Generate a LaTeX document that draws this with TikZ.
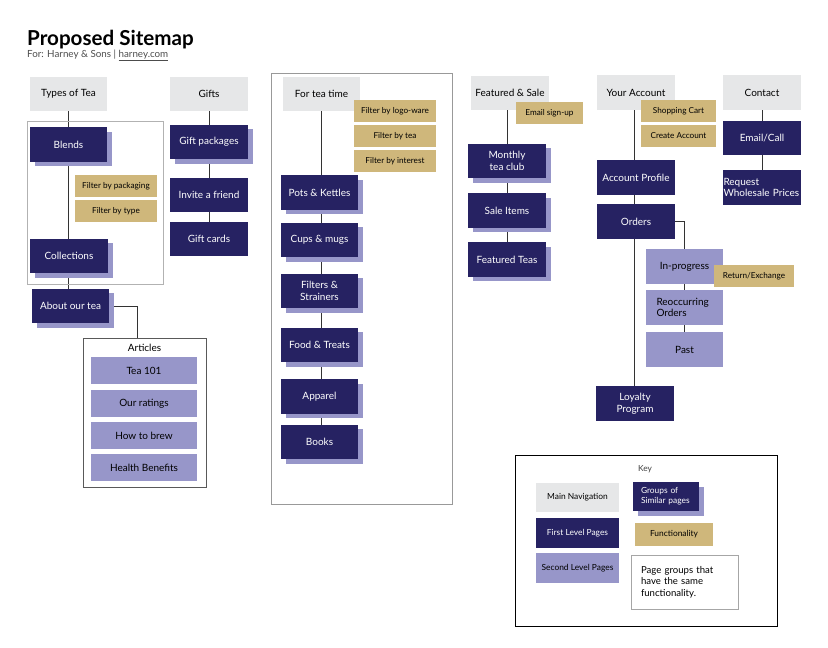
\documentclass[tikz,border=0pt]{standalone}
\usepackage{fontspec}
\setmainfont{Lato}
\usetikzlibrary{shadows,backgrounds}
\definecolor{navy}{HTML}{262262}
\definecolor{lav}{HTML}{9796C9}
\definecolor{tanc}{HTML}{CFB77B}
\definecolor{lgray}{HTML}{E6E7E8}
\definecolor{linec}{HTML}{333333}
\begin{document}
\begin{tikzpicture}[x=1pt,y=-1pt,
  base/.style={inner sep=1pt, align=center, font=\fontsize{10}{11.5}\selectfont},
  nav/.style={base, fill=lgray, text=black, minimum width=78pt, minimum height=34pt},
  first/.style={base, fill=navy, text=white, minimum width=78pt, minimum height=34.5pt},
  second/.style={base, fill=lav, text=black, minimum width=77pt, minimum height=35pt},
  art/.style={base, fill=lav, text=black, minimum width=106pt, minimum height=27pt},
  func/.style={base, fill=tanc, text=black, font=\fontsize{8.2}{9.5}\selectfont, minimum width=82pt, minimum height=22pt},
  shad/.style={general shadow={fill=lav, shadow xshift=5pt, shadow yshift=-4.5pt}},
  grp/.style={draw=#1, line width=1pt, inner sep=0pt, fill=none},
  link/.style={draw=linec, line width=0.9pt},
  keytxt/.style={font=\fontsize{8.4}{9.8}\selectfont}
]
\useasboundingbox (0,0) rectangle (828,648);

% title
\node[anchor=base west, inner sep=0, font=\fontsize{20.6}{24}\bfseries] (title) at (27,45) {Proposed Sitemap};
\node[anchor=base west, inner sep=0, text=black!70, font=\fontsize{9.8}{11}\selectfont] (sub) at (27,57.5) {For: Harney \& Sons | \underline{harney.com}};

% group frames
\node[grp=black!30, minimum width=136pt, minimum height=163pt] (g1) at (95,202.5) {};
\node[grp=black!40, minimum width=181pt, minimum height=431pt] (g2) at (361.5,288.5) {};
\node[grp=black!65, minimum width=123pt, minimum height=149pt] (artbox) at (144.5,412.5) {};
\node[grp=black, minimum width=262pt, minimum height=171pt] (keybox) at (646,540.5) {};

% main navigation
\node[nav, minimum width=77pt] (types) at (68.5,94) {Types of Tea};
\node[nav] (gifts) at (209,94) {Gifts};
\node[nav, minimum width=77pt] (teatime) at (321.5,94) {For tea time};
\node[nav] (featured) at (510,93) {Featured \& Sale};
\node[nav, minimum height=35pt] (account) at (636,92.5) {Your Account};
\node[nav, minimum height=35pt] (contact) at (762,92.5) {Contact};

% types of tea
\node[first, shad, minimum width=77pt] (blends) at (68.5,144.5) {Blends};
\node[func] (fpack) at (116,186) {Filter by packaging};
\node[func] (ftype) at (116,211) {Filter by type};
\node[first, shad] (collections) at (69,256) {Collections};
\node[first, shad, minimum width=77pt] (about) at (70.5,306) {About our tea};
\node[font=\fontsize{10}{11}\selectfont, inner sep=0] (artlabel) at (144.5,348) {Articles};
\node[art] (tea101) at (144,370.5) {Tea 101};
\node[art] (ratings) at (144,403.5) {Our ratings};
\node[art] (brew) at (144,435.5) {How to brew};
\node[art] (health) at (144,467.5) {Health Benefits};

% gifts
\node[first, shad] (giftpk) at (209,142) {Gift packages};
\node[first] (invite) at (209,195) {Invite a friend};
\node[first] (giftcards) at (209,239) {Gift cards};

% tea time
\node[func] (flogo) at (395,111) {Filter by logo-ware};
\node[func] (ftea) at (395,136) {Filter by tea};
\node[func] (finterest) at (395,161) {Filter by interest};
\node[first, shad, minimum width=77pt] (pots) at (319.5,192.5) {Pots \& Kettles};
\node[first, shad, minimum width=77pt] (cups) at (319.5,240) {Cups \& mugs};
\node[first, shad, minimum width=77pt] (filters) at (319.5,291) {Filters \&\\Strainers};
\node[first, shad, minimum width=77pt] (food) at (319.5,345) {Food \& Treats};
\node[first, shad, minimum width=77pt] (apparel) at (319.5,396.5) {Apparel};
\node[first, shad, minimum width=77pt] (books) at (319.5,442) {Books};

% featured
\node[func, minimum width=67pt] (emailsign) at (549.5,113) {Email sign-up};
\node[first, shad] (monthly) at (507,161) {Monthly\\tea club};
\node[first, shad] (sale) at (507,210.5) {Sale Items};
\node[first, shad] (featteas) at (507,259.5) {Featured Teas};

% account
\node[func, minimum width=75pt] (cart) at (678.5,111) {Shopping Cart};
\node[func, minimum width=75pt] (create) at (678.5,136) {Create Account};
\node[first] (profile) at (636,177.5) {Account Profile};
\node[first] (orders) at (636,221.5) {Orders};
\node[second] (inprog) at (684.5,266.5) {In-progress};
\node[func, minimum width=80pt] (returnx) at (754,276) {Return/Exchange};
\node[second, text width=56pt, align=left] (reoccur) at (684.5,307.5) {Reoccurring\\Orders};
\node[second] (past) at (684.5,349.5) {Past};
\node[first] (loyalty) at (635,403.5) {Loyalty\\Program};

% contact
\node[first] (emailcall) at (762,138) {Email/Call};
\node[first, text width=77pt, align=left, inner sep=0.5pt] (wholesale) at (762,187.5) {Request\\Wholesale Prices};

% key
\node[keytxt, text=black!75, inner sep=0] (keylabel) at (645,469) {Key};
\node[nav, keytxt, minimum width=83pt, minimum height=29pt] (k1) at (577.5,497.5) {Main Navigation};
\node[first, keytxt, minimum width=83pt, minimum height=30pt] (k2) at (577.5,533) {First Level Pages};
\node[second, keytxt, minimum width=83pt, minimum height=30pt] (k3) at (577.5,568) {Second Level Pages};
\node[first, shad, keytxt, minimum width=66pt, minimum height=29pt, text width=50pt, align=left] (k4) at (666,496.5) {Groups of\\Similar pages};
\node[func, keytxt, minimum width=78pt, minimum height=23pt] (k5) at (674,534.5) {Functionality};
\node[draw=black!35, line width=1pt, inner sep=1pt, minimum width=107pt, minimum height=54pt, text width=87pt, align=left, font=\fontsize{9.6}{11.5}\selectfont] (k6) at (684.5,582) {Page groups that\\have the same\\functionality.};

% connectors
\begin{pgfonlayer}{background}
\draw[link] (types.south) -- (types.south |- about.north);
\draw[link] (about.east) -| ([xshift=-7.5pt]artbox.north);
\draw[link] (gifts.south) -- (giftcards.north);
\draw[link] (teatime.south) -- (teatime.south |- books.north);
\draw[link] (monthly.north |- featured.south) -- (featteas.north);
\draw[link] ([xshift=-2pt]account.south) -- ([xshift=-2pt]account.south |- loyalty.north);
\draw[link] (orders.east) -| (inprog.north);
\draw[link] (inprog.south) -- (past.north);
\draw[link] (contact.south) -- (wholesale.north);
\end{pgfonlayer}
\end{tikzpicture}
\end{document}
